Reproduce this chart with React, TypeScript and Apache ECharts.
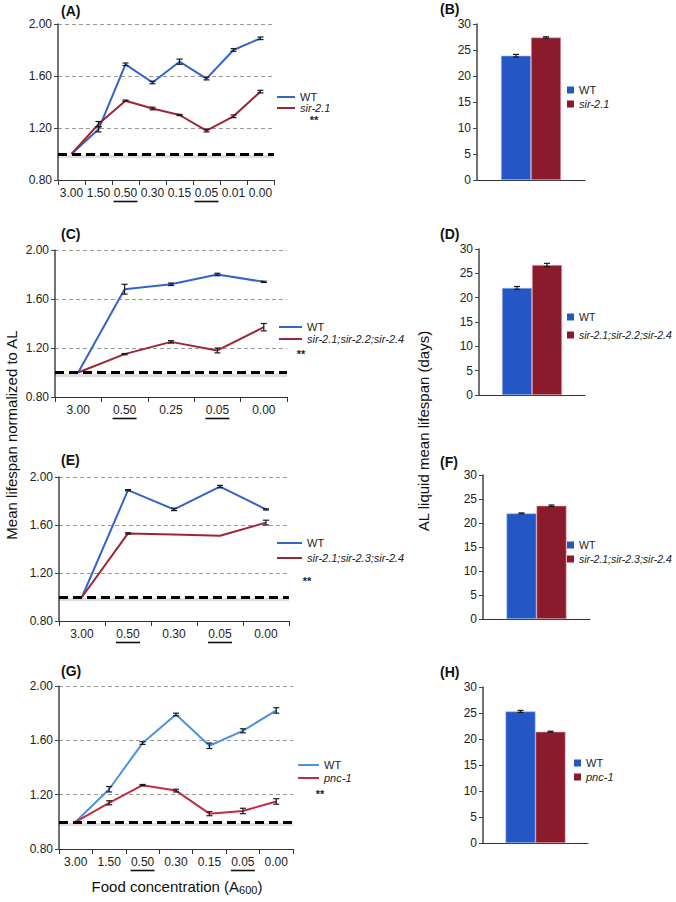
import React, { useEffect, useRef } from "react";
import * as echarts from "echarts";

const FONT = '"Liberation Sans", Arial, Helvetica, sans-serif';

// ---------- data ----------
const catsA = ["3.00", "1.50", "0.50", "0.30", "0.15", "0.05", "0.01", "0.00"];
const wtA = [1.0, 1.19, 1.69, 1.55, 1.71, 1.58, 1.8, 1.89];
const wtErrA = [0, 0.02, 0.01, 0.01, 0.02, 0.01, 0.01, 0.01];
const mutA = [1.0, 1.23, 1.41, 1.35, 1.3, 1.18, 1.29, 1.48];
const mutErrA = [0, 0.02, 0.005, 0.01, 0.005, 0.01, 0.01, 0.01];

const catsC = ["3.00", "0.50", "0.25", "0.05", "0.00"];
const wtC = [1.0, 1.68, 1.72, 1.8, 1.74];
const wtErrC = [0, 0.04, 0.01, 0.01, 0.005];
const mutC = [1.0, 1.15, 1.25, 1.18, 1.37];
const mutErrC = [0, 0.005, 0.01, 0.02, 0.03];

const catsE = ["3.00", "0.50", "0.30", "0.05", "0.00"];
const wtE = [1.0, 1.89, 1.73, 1.92, 1.73];
const wtErrE = [0, 0.005, 0.01, 0.01, 0.005];
const mutE = [1.0, 1.53, 1.52, 1.51, 1.62];
const mutErrE = [0, 0.005, 0, 0, 0.02];

const catsG = ["3.00", "1.50", "0.50", "0.30", "0.15", "0.05", "0.00"];
const wtG = [1.0, 1.24, 1.58, 1.79, 1.56, 1.67, 1.82];
const wtErrG = [0, 0.02, 0.01, 0.01, 0.02, 0.015, 0.02];
const mutG = [1.0, 1.14, 1.27, 1.23, 1.06, 1.08, 1.15];
const mutErrG = [0, 0.015, 0.005, 0.01, 0.015, 0.02, 0.02];

const barB = [23.9, 27.4];
const barErrB = [0.25, 0.15];
const barD = [22.0, 26.7];
const barErrD = [0.3, 0.35];
const barF = [22.0, 23.6];
const barErrF = [0.1, 0.15];
const barH = [25.3, 21.4];
const barErrH = [0.2, 0.1];

const mutNameA = "sir-2.1";
const mutNameC = "sir-2.1;sir-2.2;sir-2.4";
const mutNameE = "sir-2.1;sir-2.3;sir-2.4";
const mutNameG = "pnc-1";

const underlinedCats = ["0.50", "0.05"];
const baselineValue = 1.0;
const yTicksLine = { min: 0.8, max: 2.0, interval: 0.4 };
const yTicksBar = { min: 0, max: 30, interval: 5 };

// ---------- style ----------
const BLUE = "#3563c9";
const RED = "#9c2537";
const BLUE_G = "#4a92e4";
const RED_G = "#c42b43";
const BAR_BLUE = "#2457c5";
const BAR_RED = "#8b1a2c";
const BAR_W = 30;

const grids = [
  { left: 58, top: 24, width: 216, height: 156 }, // A
  { left: 477, top: 24, width: 108, height: 156 }, // B
  { left: 55, top: 250, width: 232, height: 147 }, // C
  { left: 479, top: 249, width: 106, height: 146 }, // D
  { left: 59, top: 477, width: 230, height: 144 }, // E
  { left: 483, top: 475, width: 107, height: 144 }, // F
  { left: 59, top: 686, width: 234, height: 163 }, // G
  { left: 483, top: 687, width: 105, height: 156 }, // H
];

function lineX(gridIndex: number, cats: string[]) {
  return {
    type: "category",
    gridIndex,
    data: cats,
    boundaryGap: true,
    axisLine: { lineStyle: { color: "#333", width: 1.2 } },
    axisTick: { show: true, length: 5, alignWithLabel: false, interval: 0, lineStyle: { color: "#333" } },
    axisLabel: {
      interval: 0,
      margin: 6,
      formatter: (v: string) => (underlinedCats.includes(v) ? `{t|${v}}\n{u| }` : `{t|${v}}`),
      rich: {
        t: { fontSize: 12, fontFamily: FONT, color: "#222", lineHeight: 14 },
        u: { width: 24, height: 1.6, backgroundColor: "#111", lineHeight: 3 },
      },
    },
    splitLine: { show: false },
  };
}

function lineY(gridIndex: number) {
  return {
    type: "value",
    gridIndex,
    ...yTicksLine,
    axisLine: { show: true, lineStyle: { color: "#444", width: 1.5 } },
    axisTick: { show: true, length: 4, lineStyle: { color: "#444" } },
    axisLabel: { formatter: (v: number) => v.toFixed(2), fontSize: 12, color: "#222", fontFamily: FONT, margin: 6 },
    splitLine: { show: true, lineStyle: { type: [4, 3], color: "#9a9a9a", width: 1 } },
  };
}

function barX(gridIndex: number) {
  return {
    type: "category",
    gridIndex,
    data: [""],
    axisLine: { lineStyle: { color: "#333", width: 1.2 } },
    axisTick: { show: false },
    axisLabel: { show: false },
  };
}

function barY(gridIndex: number) {
  return {
    type: "value",
    gridIndex,
    ...yTicksBar,
    axisLine: { show: true, lineStyle: { color: "#444", width: 1.5 } },
    axisTick: { show: true, length: 4, lineStyle: { color: "#444" } },
    axisLabel: { fontSize: 12, color: "#222", fontFamily: FONT, margin: 6 },
    splitLine: { show: false },
  };
}

const errStyle = { stroke: "#1a1a1a", lineWidth: 1.2 };

function errRender(_params: any, api: any) {
  const x = api.value(0);
  const v = api.value(1);
  const e = api.value(2);
  const dx = api.value(3) || 0;
  if (!e) return { type: "group", children: [] };
  const top = api.coord([x, v + e]);
  const bot = api.coord([x, v - e]);
  const cx = top[0] + dx;
  const cw = 3;
  return {
    type: "group",
    children: [
      { type: "line", shape: { x1: cx, y1: top[1], x2: cx, y2: bot[1] }, style: errStyle },
      { type: "line", shape: { x1: cx - cw, y1: top[1], x2: cx + cw, y2: top[1] }, style: errStyle },
      { type: "line", shape: { x1: cx - cw, y1: bot[1], x2: cx + cw, y2: bot[1] }, style: errStyle },
    ],
  };
}

function linePanel(p: string, idx: number, wt: number[], wtErr: number[], mut: number[], mutErr: number[], mutName: string, cWt: string, cMut: string) {
  return [
    {
      type: "line",
      name: `${p}-base`,
      xAxisIndex: idx,
      yAxisIndex: idx,
      data: [],
      z: 1,
      markLine: {
        silent: true,
        symbol: ["none", "none"],
        label: { show: false },
        data: [
          { yAxis: baselineValue - 0.015, lineStyle: { color: "rgba(0,0,0,0.13)", width: 3, type: "solid" } },
          { yAxis: baselineValue, lineStyle: { color: "#000", width: 3, type: [9, 5] } },
        ],
      },
    },
    {
      type: "line",
      name: `${p}|WT`,
      xAxisIndex: idx,
      yAxisIndex: idx,
      data: wt,
      showSymbol: false,
      symbol: "none",
      lineStyle: { color: cWt, width: 2 },
      itemStyle: { color: cWt },
      z: 3,
    },
    {
      type: "line",
      name: `${p}|${mutName}`,
      xAxisIndex: idx,
      yAxisIndex: idx,
      data: mut,
      showSymbol: false,
      symbol: "none",
      lineStyle: { color: cMut, width: 2 },
      itemStyle: { color: cMut },
      z: 3,
    },
    {
      type: "custom",
      name: `${p}-errWT`,
      xAxisIndex: idx,
      yAxisIndex: idx,
      data: wt.map((v, i) => [i, v, wtErr[i]]),
      renderItem: errRender,
      z: 4,
    },
    {
      type: "custom",
      name: `${p}-errMut`,
      xAxisIndex: idx,
      yAxisIndex: idx,
      data: mut.map((v, i) => [i, v, mutErr[i]]),
      renderItem: errRender,
      z: 4,
    },
  ];
}

function barPanel(p: string, idx: number, vals: number[], errs: number[], mutName: string) {
  return [
    {
      type: "bar",
      name: `${p}|WT`,
      xAxisIndex: idx,
      yAxisIndex: idx,
      data: [vals[0]],
      barWidth: BAR_W,
      barGap: "0%",
      itemStyle: { color: BAR_BLUE, borderColor: "#9db8ee", borderWidth: 0.6 },
    },
    {
      type: "bar",
      name: `${p}|${mutName}`,
      xAxisIndex: idx,
      yAxisIndex: idx,
      data: [vals[1]],
      barWidth: BAR_W,
      barGap: "0%",
      itemStyle: { color: BAR_RED, borderColor: "#e9a3ad", borderWidth: 0.6 },
    },
    {
      type: "custom",
      name: `${p}-err`,
      xAxisIndex: idx,
      yAxisIndex: idx,
      data: [
        [0, vals[0], errs[0], -BAR_W / 2],
        [0, vals[1], errs[1], BAR_W / 2],
      ],
      renderItem: errRender,
      z: 4,
    },
  ];
}

function legend(p: string, mutName: string, left: number, top: number, gap: number, lh: number, isLine: boolean, iw: number, fs: number) {
  const ts = { fontSize: fs, fontFamily: FONT, color: "#222", lineHeight: lh };
  return {
    orient: "vertical",
    left,
    top,
    padding: 0,
    itemGap: gap,
    icon: "rect",
    itemWidth: iw,
    itemHeight: isLine ? 2 : 7,
    itemStyle: { borderWidth: 0 },
    selectedMode: false,
    formatter: (name: string) => name.split("|")[1],
    textStyle: ts,
    data: [{ name: `${p}|WT` }, { name: `${p}|${mutName}`, textStyle: { ...ts, fontStyle: "italic" } }],
  };
}

function panelLabel(text: string, x: number, y: number) {
  return {
    type: "text",
    x,
    y,
    style: { text, font: `bold 14px ${FONT}`, fill: "#111", verticalAlign: "middle" },
  };
}

function stars(x: number, y: number) {
  return {
    type: "text",
    x,
    y,
    style: { text: "**", font: `bold 11px ${FONT}`, fill: "#222", align: "center", verticalAlign: "middle" },
  };
}

export default function App() {
  const ref = useRef<HTMLDivElement>(null);
  useEffect(() => {
    if (!ref.current) return;
    const chart = echarts.init(ref.current, null, { renderer: "svg" });
    const option: any = {
      animation: false,
      backgroundColor: "#fff",
      grid: grids,
      xAxis: [lineX(0, catsA), barX(1), lineX(2, catsC), barX(3), lineX(4, catsE), barX(5), lineX(6, catsG), barX(7)],
      yAxis: [lineY(0), barY(1), lineY(2), barY(3), lineY(4), barY(5), lineY(6), barY(7)],
      legend: [
        legend("A", mutNameA, 277, 91.5, 0, 9, true, 18, 11),
        legend("B", mutNameA, 567, 84, 2, 12, false, 7, 11),
        legend("C", mutNameC, 279, 321, 0, 12, true, 23, 11),
        legend("D", mutNameC, 567, 311, 6, 12, false, 7, 10.5),
        legend("E", mutNameE, 277, 537, 3, 12, true, 25, 11),
        legend("F", mutNameE, 567, 539, 2, 12, false, 7, 10.5),
        legend("G", mutNameG, 298, 759, 1, 12, true, 21, 11),
        legend("H", mutNameG, 574, 757, 2, 12, false, 7, 11),
      ],
      series: [
        ...linePanel("A", 0, wtA, wtErrA, mutA, mutErrA, mutNameA, BLUE, RED),
        ...barPanel("B", 1, barB, barErrB, mutNameA),
        ...linePanel("C", 2, wtC, wtErrC, mutC, mutErrC, mutNameC, BLUE, RED),
        ...barPanel("D", 3, barD, barErrD, mutNameC),
        ...linePanel("E", 4, wtE, wtErrE, mutE, mutErrE, mutNameE, BLUE, RED),
        ...barPanel("F", 5, barF, barErrF, mutNameE),
        ...linePanel("G", 6, wtG, wtErrG, mutG, mutErrG, mutNameG, BLUE_G, RED_G),
        ...barPanel("H", 7, barH, barErrH, mutNameG),
      ],
      graphic: [
        panelLabel("(A)", 61, 11),
        panelLabel("(B)", 440, 9),
        panelLabel("(C)", 61, 234),
        panelLabel("(D)", 440, 234),
        panelLabel("(E)", 61, 460),
        panelLabel("(F)", 440, 462),
        panelLabel("(G)", 61, 671),
        panelLabel("(H)", 440, 672),
        stars(314, 120),
        stars(301, 354),
        stars(307, 581),
        stars(320, 794),
        {
          type: "text",
          x: 11,
          y: 435,
          rotation: Math.PI / 2,
          style: { text: "Mean lifespan normalized to AL", font: `15px ${FONT}`, fill: "#111", align: "center", verticalAlign: "middle" },
        },
        {
          type: "text",
          x: 423,
          y: 431,
          rotation: Math.PI / 2,
          style: { text: "AL liquid mean lifespan (days)", font: `15px ${FONT}`, fill: "#111", align: "center", verticalAlign: "middle" },
        },
        {
          type: "text",
          x: 177,
          y: 886,
          style: {
            text: "{a|Food concentration (A}{s|600}{a|)}",
            align: "center",
            verticalAlign: "middle",
            rich: {
              a: { fontSize: 15, fontFamily: FONT, fill: "#111", lineHeight: 18 },
              s: { fontSize: 11, fontFamily: FONT, fill: "#111", lineHeight: 18, padding: [8, 0, 0, 0] },
            },
          },
        },
      ],
    };
    chart.setOption(option);
    return () => chart.dispose();
  }, []);
  return <div ref={ref} style={{ position: "fixed", left: 0, top: 0, width: 676, height: 902, background: "#fff" }} />;
}
